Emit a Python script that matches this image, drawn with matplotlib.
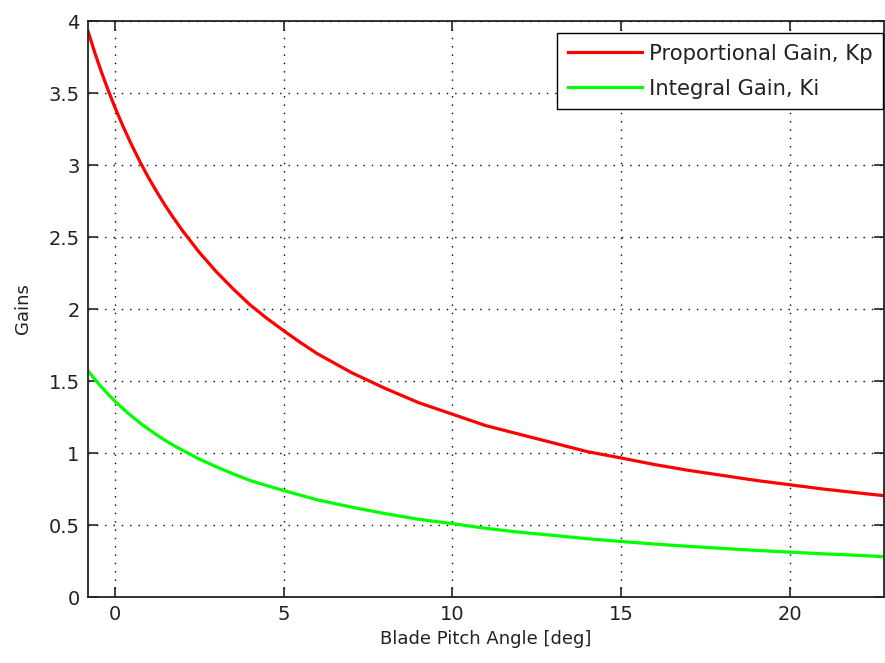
import matplotlib
matplotlib.use("Agg")
import matplotlib.pyplot as plt

# blade pitch angle [deg] and the scheduled controller gains
pitch = [-0.8, -0.6, -0.4, -0.2, 0, 0.25, 0.5, 0.75, 1, 1.25, 1.5, 1.75, 2,
         2.5, 3, 3.5, 4, 4.5, 5, 5.5, 6, 6.5, 7, 8, 9, 10, 11, 12,
         13, 14, 15, 16, 17, 18, 19, 20, 21, 22, 22.8]
kp = [3.93, 3.782, 3.645, 3.519, 3.40, 3.263, 3.137, 3.019, 2.91, 2.81,
      2.715, 2.628, 2.545, 2.394, 2.26, 2.141, 2.03, 1.936, 1.85, 1.767,
      1.69, 1.625, 1.56, 1.45, 1.35, 1.27, 1.19, 1.13, 1.07, 1.01, 0.966,
      0.92, 0.88, 0.845, 0.81, 0.78, 0.75, 0.724, 0.704]
ki = [1.57, 1.513, 1.458, 1.408, 1.36, 1.305, 1.255, 1.208, 1.165, 1.124,
      1.086, 1.051, 1.02, 0.958, 0.905, 0.856, 0.81, 0.774, 0.74, 0.707,
      0.675, 0.65, 0.625, 0.58, 0.54, 0.51, 0.477, 0.45, 0.428, 0.405, 0.386,
      0.368, 0.352, 0.338, 0.324, 0.312, 0.30, 0.29, 0.28]

xticks = [0, 5, 10, 15, 20]
yticks = [0, 0.5, 1, 1.5, 2, 2.5, 3, 3.5, 4]
ytick_labels = ["0", "0.5", "1", "1.5", "2", "2.5", "3", "3.5", "4"]

plt.rcParams["font.family"] = "DejaVu Sans"

fig = plt.figure(figsize=(8.85, 6.63), dpi=100)
ax = fig.add_axes([0.0994, 0.0995, 0.8994, 0.8688])

ax.plot(pitch, kp, color="#ff0000", linewidth=2.3, label="Proportional Gain, Kp")
ax.plot(pitch, ki, color="#00ff00", linewidth=2.3, label="Integral Gain, Ki")

ax.set_xlim(-0.8, 22.8)
ax.set_ylim(0, 4)
ax.set_xticks(xticks)
ax.set_yticks(yticks)
ax.set_yticklabels(ytick_labels)

ax.grid(True, color="black", linestyle=(0, (1, 5)), linewidth=1.0)
ax.tick_params(direction="in", length=7, width=1.2, top=True, right=True,
               labelsize=14, colors="#222222", pad=6)
for s in ax.spines.values():
    s.set_linewidth(1.3)
    s.set_color("#222222")

ax.set_xlabel("Blade Pitch Angle [deg]", fontsize=13, color="#222222", labelpad=4)
ax.set_ylabel("Gains", fontsize=13, color="#222222", labelpad=12)

leg = ax.legend(loc="upper right", bbox_to_anchor=(0.999, 0.979),
                fontsize=15.2, handlelength=3.5, fancybox=False, framealpha=1,
                edgecolor="black", borderaxespad=0, borderpad=0.5,
                handletextpad=0.35, labelspacing=0.72)
leg.get_frame().set_linewidth(1.0)
for t in leg.get_texts():
    t.set_color("#222222")

fig.savefig("out.png", dpi=100)
